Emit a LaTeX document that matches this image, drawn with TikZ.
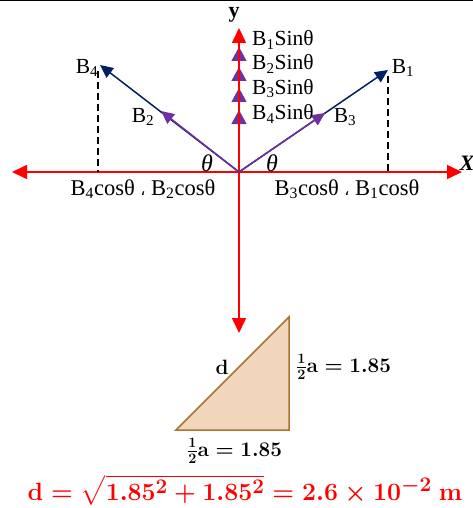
\documentclass[tikz,border=0pt]{standalone}
\usepackage{amsmath}
\usepackage{fontspec}
\setmainfont{Liberation Serif}
\newfontfamily\arabicfont[Script=Arabic]{DejaVu Sans}
\usetikzlibrary{arrows.meta}
\definecolor{axisred}{RGB}{255,0,0}
\definecolor{navy}{RGB}{0,32,96}
\definecolor{vpurple}{RGB}{112,48,160}
\definecolor{trifill}{RGB}{241,214,188}
\definecolor{triedge}{RGB}{168,116,48}
\begin{document}
\begin{tikzpicture}[x=1pt,y=-1pt,
  axis/.style={draw=axisred,line width=1.6pt,-{Triangle[length=15pt,width=14pt]},fill=axisred},
  vec/.style={line width=1.5pt,-{Triangle[length=13pt,width=12pt]}},
  ytip/.style={draw=vpurple,fill=vpurple,line width=1.2pt,-{Triangle[length=14pt,width=15pt]}},
  drop/.style={draw=black,line width=1.4pt,dash pattern=on 7pt off 4pt},
  lbl/.style={inner sep=0pt,font=\fontsize{21.5}{24}\selectfont},
  clbl/.style={inner sep=0pt,font=\fontsize{22.5}{26}\selectfont},
  mlbl/.style={inner sep=0pt,font=\fontsize{21}{25}\selectfont\boldmath}]
\useasboundingbox (0,0) rectangle (473,508);
\draw[line width=1.5pt] (0,0.75) -- (473,0.75);
% points
\coordinate (O) at (239,172);
\coordinate (L) at (12,172);
\coordinate (R) at (462,172);
\coordinate (T) at (239,28);
\coordinate (D) at (239,333);
\coordinate (B1t) at (388,70);
\coordinate (B4t) at (100,65);
\coordinate (B3t) at (325,113);
\coordinate (B2t) at (161,111);
\coordinate (F1) at (388,172);
\coordinate (F4) at (98,172);
\coordinate (G1) at (388,76);
\coordinate (G4) at (98,71);
% purple tips on y axis
\foreach \yy in {47,67,88,110}{
  \draw[ytip] (239,\yy+15) -- (239,\yy);
}
% axes
\draw[axis] (O) -- (L);
\draw[axis] (O) -- (R);
\draw[axis] (O) -- (T);
\draw[axis] (O) -- (D);
% vectors
\draw[vec,navy,fill=navy] (O) -- (B1t);
\draw[vec,navy,fill=navy] (O) -- (B4t);
\draw[vec,vpurple,fill=vpurple] (O) -- (B3t);
\draw[vec,vpurple,fill=vpurple] (O) -- (B2t);
% drops
\draw[drop] (G1) -- (F1);
\draw[drop] (G4) -- (F4);
% labels
\node[inner sep=0pt,font=\fontsize{22}{26}\selectfont\bfseries] (ylab) at (234,15) {y};
\node[inner sep=0pt,font=\fontsize{22}{26}\selectfont\bfseries\itshape] (xlab) at (467,163) {X};
\node[lbl,anchor=west] (s1) at (252,40) {B\textsubscript{1}Sinθ};
\node[lbl,anchor=west] (s2) at (252,64) {B\textsubscript{2}Sinθ};
\node[lbl,anchor=west] (s3) at (252,89) {B\textsubscript{3}Sinθ};
\node[lbl,anchor=west] (s4) at (252,114) {B\textsubscript{4}Sinθ};
\node[lbl] (b1) at (403,68) {B\textsubscript{1}};
\node[lbl] (b4) at (87,68) {B\textsubscript{4}};
\node[lbl] (b3) at (345,117) {B\textsubscript{3}};
\node[lbl] (b2) at (143,117) {B\textsubscript{2}};
\node[clbl,font=\fontsize{24}{26}\selectfont\itshape] (thl) at (207,163) {θ};
\node[clbl,font=\fontsize{24}{26}\selectfont\itshape] (thr) at (272,163) {θ};
\node[clbl] (cl) at (143,189) {B\textsubscript{4}cosθ {\arabicfont\fontsize{16}{18}\selectfont ،} B\textsubscript{2}cosθ};
\node[clbl] (cr) at (347,189) {B\textsubscript{3}cosθ {\arabicfont\fontsize{16}{18}\selectfont ،} B\textsubscript{1}cosθ};
% triangle
\coordinate (TA) at (176,430);
\coordinate (TB) at (289,430);
\coordinate (TC) at (289,317);
\filldraw[fill=trifill,draw=triedge,line width=1.5pt] (TA) -- (TB) -- (TC) -- cycle;
\node[mlbl] (dl) at (222,367) {$\mathbf{d}$};
\node[mlbl,anchor=west] (hr) at (296,367) {$\tfrac{1}{2}\mathbf{a}=1.85$};
\node[mlbl,anchor=west] (hb) at (187,451) {$\tfrac{1}{2}\mathbf{a}=1.85$};
\node[inner sep=0pt,text=axisred,font=\fontsize{29}{34}\selectfont\boldmath] (eq) at (245,490)
  {$\mathbf{d}=\sqrt{1.85^{2}+1.85^{2}}=2.6\times10^{-2}\ \mathbf{m}$};
\end{tikzpicture}
\end{document}
